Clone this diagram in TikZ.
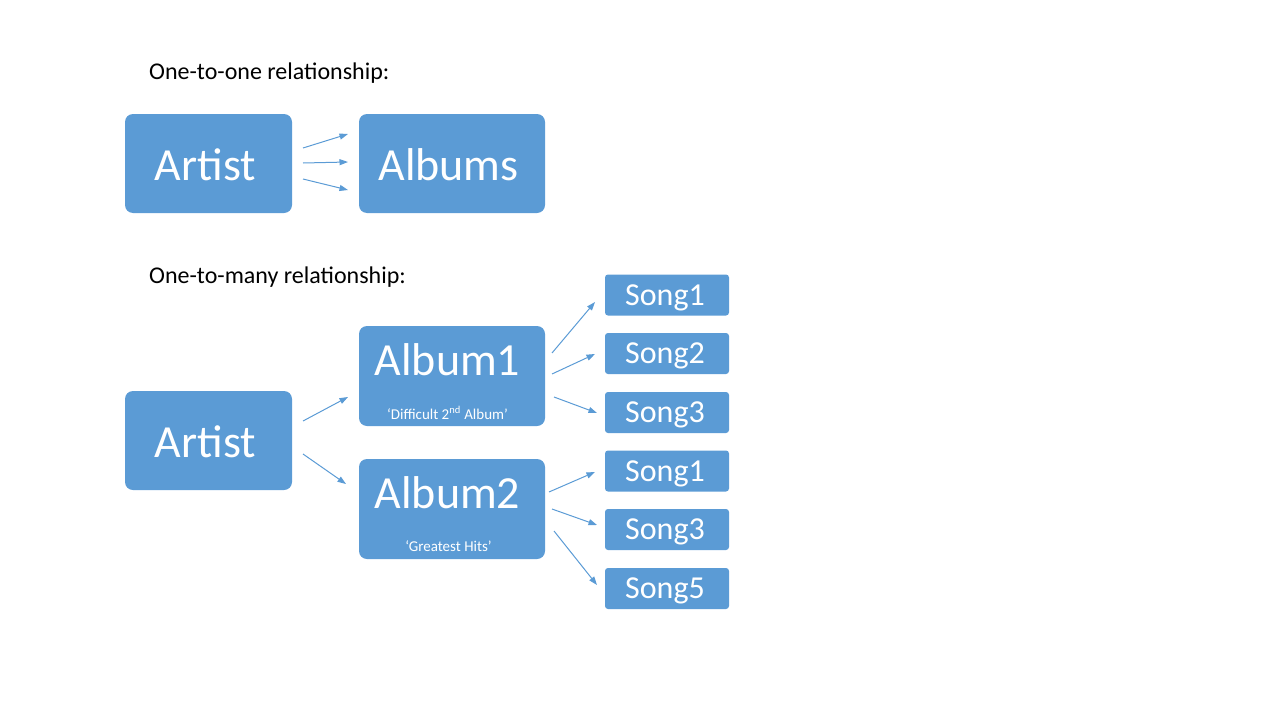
\documentclass[tikz,border=0pt]{standalone}
\usepackage{fontspec}
\setmainfont{Carlito}
\usetikzlibrary{arrows.meta}
\definecolor{blu}{HTML}{5B9BD5}
\tikzset{
  box/.style={draw=none,fill=blu,rounded corners=8pt,inner sep=0pt},
  bigtxt/.style={text=white,font=\fontsize{46}{54}\selectfont,inner sep=0pt},
  midtxt/.style={text=white,font=\fontsize{32}{38}\selectfont,inner sep=0pt},
  smalltxt/.style={text=white,font=\fontsize{15}{18}\selectfont,inner sep=0pt},
  title/.style={text=black,font=\fontsize{24}{29}\selectfont,inner sep=0pt,anchor=west},
  arr/.style={draw=blu,line width=1pt,-{Triangle[length=8.5pt,width=6pt]}},
  songbox/.style={box,rounded corners=3pt,minimum width=124pt,minimum height=41pt}
}
\begin{document}
\begin{tikzpicture}[x=1pt,y=-1pt]
\useasboundingbox (0,0) rectangle (1280,720);
% titles
\node[title] (t1) at (149,73) {One-to-one relationship:};
\node[title] (t2) at (149,277) {One-to-many relationship:};
% one-to-one
\node[box,minimum width=167pt,minimum height=99pt] (art1) at (208.5,163.5) {};
\node[bigtxt] (art1t) at (205.5,165) {Artist};
\node[box,minimum width=186pt,minimum height=99pt] (alb) at (452,163.5) {};
\node[bigtxt] (albt) at (448.5,165) {Albums};
% one-to-many
\node[box,minimum width=167pt,minimum height=99pt] (art2) at (208.5,440.5) {};
\node[bigtxt] (art2t) at (205.5,442) {Artist};
\node[box,minimum width=186pt,minimum height=100pt] (a1) at (452,376) {};
\node[bigtxt] (a1t) at (447.5,360) {Album1};
\node[smalltxt] (a1s) at (447.5,413) {‘Difficult 2\textsuperscript{nd} Album’};
\node[box,minimum width=186pt,minimum height=100pt] (a2) at (452,509) {};
\node[bigtxt] (a2t) at (447.5,493) {Album2};
\node[smalltxt] (a2s) at (448.5,546) {‘Greatest Hits’};
% songs
\node[songbox] (s1) at (667,295) {};
\node[midtxt] (s1t) at (665,297.5) {Song1};
\node[songbox] (s2) at (667,353.5) {};
\node[midtxt] (s2t) at (665,355.5) {Song2};
\node[songbox] (s3) at (667,412.5) {};
\node[midtxt] (s3t) at (665,414.5) {Song3};
\node[songbox] (s4) at (667,471) {};
\node[midtxt] (s4t) at (665,473.5) {Song1};
\node[songbox] (s5) at (667,529.5) {};
\node[midtxt] (s5t) at (665,531.5) {Song3};
\node[songbox] (s6) at (667,588.5) {};
\node[midtxt] (s6t) at (665,590.5) {Song5};
% arrow endpoints
\coordinate (p1a) at (303,148); \coordinate (p1b) at (348,134);
\coordinate (p2a) at (303,163); \coordinate (p2b) at (348,162);
\coordinate (p3a) at (303,179); \coordinate (p3b) at (348,190);
\coordinate (q1a) at (303,421); \coordinate (q1b) at (348,397);
\coordinate (q2a) at (303,454); \coordinate (q2b) at (346,484);
\coordinate (r1a) at (552,353); \coordinate (r1b) at (595,302);
\coordinate (r2a) at (552,374); \coordinate (r2b) at (595,354);
\coordinate (r3a) at (554,397); \coordinate (r3b) at (597,413);
\coordinate (u1a) at (549,492); \coordinate (u1b) at (595,472);
\coordinate (u2a) at (552,509); \coordinate (u2b) at (597,525);
\coordinate (u3a) at (554,531); \coordinate (u3b) at (597,585);
\foreach \a in {p1,p2,p3,q1,q2,r1,r2,r3,u1,u2,u3}{
  \draw[arr] (\a a) -- (\a b);
}
\end{tikzpicture}
\end{document}
